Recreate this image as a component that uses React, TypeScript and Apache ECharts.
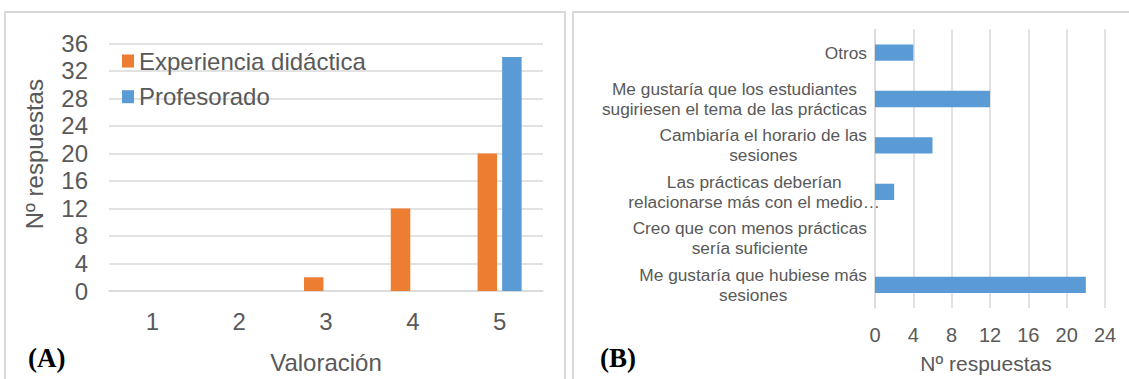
import React, { useEffect, useRef } from "react";
import * as echarts from "echarts";

// Panel (A): ratings of the teaching experience
const valoraciones = ["1", "2", "3", "4", "5"];
const experienciaDidactica = [0, 0, 2, 12, 20];
const profesorado = [0, 0, 0, 0, 34];

// Panel (B): suggestions, listed top to bottom
const sugerencias = [
  "Otros",
  "Me gustaría que los estudiantes\nsugiriesen el tema de las prácticas",
  "Cambiaría el horario de las\nsesiones",
  "Las prácticas deberían\nrelacionarse más con el medio…",
  "Creo que con menos prácticas\nsería suficiente",
  "Me gustaría que hubiese más\nsesiones",
];
const respuestasSugerencias = [4, 12, 6, 2, 0, 22];

const ORANGE = "#ED7D31";
const BLUE = "#5B9BD5";
const GRID = "#D9D9D9";
const TEXT = "#595959";
const SANS = "'Liberation Sans', Arial, sans-serif";
const SERIF = "'Liberation Serif', 'Times New Roman', serif";

export default function App() {
  const ref = useRef<HTMLDivElement>(null);

  useEffect(() => {
    if (!ref.current) return;
    const chart = echarts.init(ref.current, undefined, { renderer: "svg" });

    // the truncated label hangs slightly past the axis
    const categoryData = sugerencias.map((s) =>
      s.endsWith("…") ? { value: s, textStyle: { padding: [0, -13, 0, 0] } } : s
    );

    chart.setOption({
      animation: false,
      backgroundColor: "#ffffff",
      textStyle: { fontFamily: SANS, color: TEXT },
      graphic: [
        {
          type: "rect",
          z: -10,
          shape: { x: 5, y: 12, width: 560, height: 390 },
          style: { fill: "none", stroke: GRID, lineWidth: 2 },
        },
        {
          type: "rect",
          z: -10,
          shape: { x: 573, y: 12, width: 600, height: 390 },
          style: { fill: "none", stroke: GRID, lineWidth: 2 },
        },
        {
          type: "text",
          x: 28,
          y: 358,
          style: {
            text: "(A)",
            font: `bold 27px ${SERIF}`,
            fill: "#000000",
            verticalAlign: "middle",
          },
        },
        {
          type: "text",
          x: 600,
          y: 358,
          style: {
            text: "(B)",
            font: `bold 27px ${SERIF}`,
            fill: "#000000",
            verticalAlign: "middle",
          },
        },
      ],
      legend: {
        data: ["Experiencia didáctica", "Profesorado"],
        orient: "vertical",
        left: 122,
        top: 49,
        padding: 0,
        icon: "rect",
        itemWidth: 12,
        itemHeight: 13,
        itemGap: 11.7,
        textStyle: { fontSize: 24, color: TEXT, lineHeight: 24, fontFamily: SANS },
      },
      grid: [
        { left: 109, right: 586, top: 43.3, bottom: 86.7 },
        { left: 875, right: 24, top: 29.3, bottom: 70 },
      ],
      xAxis: [
        {
          type: "category",
          gridIndex: 0,
          data: valoraciones,
          axisTick: { show: false },
          axisLine: { lineStyle: { color: GRID, width: 1.5 } },
          axisLabel: { fontSize: 24, color: TEXT, margin: 18 },
          name: "Valoración",
          nameLocation: "middle",
          nameGap: 59,
          nameTextStyle: { fontSize: 24, color: TEXT },
        },
        {
          type: "value",
          gridIndex: 1,
          min: 0,
          max: 24,
          interval: 4,
          axisLine: { show: false },
          axisTick: { show: false },
          axisLabel: { fontSize: 20, color: TEXT, margin: 17 },
          splitLine: { lineStyle: { color: GRID, width: 1.5 } },
          name: "Nº respuestas",
          nameLocation: "middle",
          nameGap: 45,
          nameTextStyle: { fontSize: 21, color: TEXT, padding: [0, 8, 0, 0] },
        },
      ],
      yAxis: [
        {
          type: "value",
          gridIndex: 0,
          min: 0,
          max: 36,
          interval: 4,
          axisLine: { show: false },
          axisTick: { show: false },
          axisLabel: { fontSize: 24, color: TEXT, margin: 21 },
          splitLine: { lineStyle: { color: GRID, width: 1.5 } },
          name: "Nº respuestas",
          nameLocation: "middle",
          nameRotate: 90,
          nameGap: 63,
          nameTextStyle: { fontSize: 24, color: TEXT, padding: [0, 0, 0, 26] },
        },
        {
          type: "category",
          gridIndex: 1,
          inverse: true,
          data: categoryData,
          axisTick: { show: false },
          axisLine: { lineStyle: { color: GRID, width: 1.5 } },
          axisLabel: {
            interval: 0,
            margin: 8,
            color: TEXT,
            fontSize: 17.3,
            lineHeight: 20,
            formatter: (v: string) =>
              v
                .split("\n")
                .map((line) => `{c|${line}}`)
                .join("\n"),
            rich: {
              c: {
                align: "center",
                fontSize: 17.3,
                lineHeight: 20,
                color: TEXT,
                fontFamily: SANS,
              },
            },
          },
        },
      ],
      series: [
        {
          name: "Experiencia didáctica",
          type: "bar",
          xAxisIndex: 0,
          yAxisIndex: 0,
          data: experienciaDidactica,
          barWidth: 19.5,
          barGap: "26%",
          itemStyle: { color: ORANGE },
        },
        {
          name: "Profesorado",
          type: "bar",
          xAxisIndex: 0,
          yAxisIndex: 0,
          data: profesorado,
          barWidth: 19.5,
          barGap: "26%",
          itemStyle: { color: BLUE },
        },
        {
          name: "Sugerencias",
          type: "bar",
          xAxisIndex: 1,
          yAxisIndex: 1,
          data: respuestasSugerencias,
          barWidth: 16.3,
          itemStyle: { color: BLUE },
        },
      ],
    });

    return () => chart.dispose();
  }, []);

  return (
    <div
      ref={ref}
      style={{
        position: "fixed",
        left: 0,
        top: 0,
        width: 1129,
        height: 379,
        background: "#ffffff",
      }}
    />
  );
}
